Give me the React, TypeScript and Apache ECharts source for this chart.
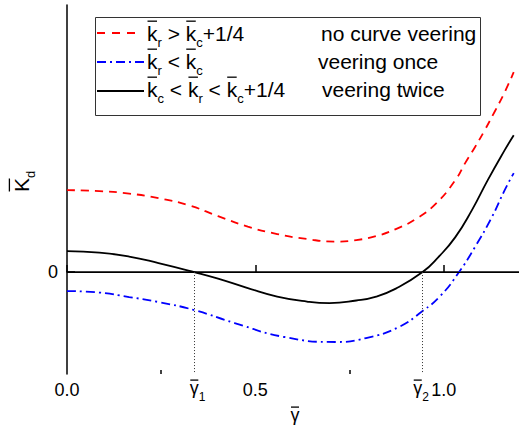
import React, { useEffect, useRef } from 'react';
import * as echarts from 'echarts';

const FONT = '"Liberation Sans", Arial, Helvetica, sans-serif';

// Axis ranges and ticks
const X_MIN = 0;
const X_MAX = 1.2;
const Y_MIN = -1;
const Y_MAX = 2.62;
const X_MAJOR_TICKS = [0, 0.5, 1.0];
const X_MINOR_TICKS = [0.25, 0.75];
const Y_TICKS = [0];

// Zero crossings of the "veering twice" curve
const GAMMA_1 = 0.338;
const GAMMA_2 = 0.944;

// k_r > k_c + 1/4 : no curve veering
const redX = [0, 0.086, 0.165, 0.243, 0.322, 0.401, 0.48, 0.558, 0.637, 0.711, 0.768, 0.821, 0.873, 0.926, 0.978, 1.031, 1.057, 1.083, 1.109, 1.136, 1.162, 1.186];
const redY = [0.804, 0.794, 0.77, 0.725, 0.657, 0.549, 0.446, 0.373, 0.324, 0.299, 0.314, 0.353, 0.422, 0.52, 0.667, 0.902, 1.069, 1.225, 1.392, 1.578, 1.765, 1.961];

// k_r < k_c : veering once
const blueX = [0, 0.086, 0.165, 0.243, 0.338, 0.445, 0.577, 0.716, 0.794, 0.881, 0.944, 0.991, 1.039, 1.083, 1.128, 1.162, 1.186];
const blueY = [-0.186, -0.201, -0.245, -0.294, -0.373, -0.5, -0.637, -0.686, -0.647, -0.539, -0.382, -0.235, -0.01, 0.245, 0.539, 0.804, 0.971];

// k_c < k_r < k_c + 1/4 : veering twice
const blackX = [0, 0.086, 0.165, 0.243, 0.338, 0.401, 0.48, 0.558, 0.637, 0.697, 0.768, 0.821, 0.873, 0.944, 0.986, 1.031, 1.075, 1.117, 1.162, 1.186];
const blackY = [0.206, 0.191, 0.152, 0.088, 0, -0.064, -0.157, -0.24, -0.289, -0.304, -0.279, -0.24, -0.162, 0, 0.147, 0.343, 0.608, 0.902, 1.196, 1.343];

// Legend contents: [text, style] pieces; "bar" = overlined symbol, "sub" = subscript
const LEGEND_CONDITIONS: [string, string?][][] = [
  [['k', 'bar'], ['r', 'sub'], [' > '], ['k', 'bar'], ['c', 'sub'], ['+1/4']],
  [['k', 'bar'], ['r', 'sub'], [' < '], ['k', 'bar'], ['c', 'sub']],
  [['k', 'bar'], ['c', 'sub'], [' < '], ['k', 'bar'], ['r', 'sub'], [' < '], ['k', 'bar'], ['c', 'sub'], ['+1/4']],
];
const LEGEND_NOTES = ['no curve veering', 'veering once', 'veering twice'];
const LEGEND_COLORS = ['#ff0000', '#0000ff', '#000000'];
const LEGEND_DASHES: (number[] | null)[] = [[8, 7], [9, 4, 2, 4], null];

const zip = (xs: number[], ys: number[]) => xs.map((x, i) => [x, ys[i]]);

let measureCtx: CanvasRenderingContext2D | null = null;
function measure(text: string, size: number) {
  if (!measureCtx) measureCtx = document.createElement('canvas').getContext('2d');
  if (!measureCtx) return text.length * size * 0.55;
  measureCtx.font = `${size}px ${FONT}`;
  return measureCtx.measureText(text).width;
}

type Piece = { text: string; size: number; sub?: boolean; bar?: number };

// Lays out a run of text with subscripts and overbars; baseline at local y = 0.
function textRun(pieces: Piece[], subDrop: number) {
  let x = 0;
  const children: any[] = [];
  for (const p of pieces) {
    const w = measure(p.text, p.size);
    const base = p.sub ? subDrop : 0;
    children.push({
      type: 'text',
      x,
      y: base - 0.3465 * p.size,
      style: { text: p.text, fontSize: p.size, fontFamily: FONT, fill: '#000', align: 'left', verticalAlign: 'middle' },
    });
    if (p.bar) {
      const yb = -p.bar * p.size;
      children.push({
        type: 'line',
        shape: { x1: x + 0.5, y1: yb, x2: x + w - 0.5, y2: yb },
        style: { stroke: '#000', lineWidth: 1.3 },
      });
    }
    x += w;
  }
  return { children, width: x };
}

function legendElements() {
  const baselines = [40.5, 68.5, 96.5];
  const lineYs = [33, 62, 91];
  const noteXs = [321, 318, 322];
  const els: any[] = [
    {
      type: 'rect',
      shape: { x: 95.5, y: 17.5, width: 385, height: 98 },
      style: { fill: '#fff', stroke: '#333', lineWidth: 1 },
    },
  ];
  LEGEND_CONDITIONS.forEach((row, i) => {
    els.push({
      type: 'line',
      shape: { x1: 97, y1: lineYs[i], x2: i === 0 ? 137 : 144, y2: lineYs[i] },
      style: { stroke: LEGEND_COLORS[i], lineWidth: 1.8, lineDash: LEGEND_DASHES[i] || undefined },
    });
    const pieces: Piece[] = row.map(([t, kind]) =>
      kind === 'sub' ? { text: t, size: 13, sub: true } : kind === 'bar' ? { text: t, size: 21, bar: 0.92 } : { text: t, size: 21 }
    );
    const run = textRun(pieces, 7);
    els.push({ type: 'group', x: 147, y: baselines[i], children: run.children });
    els.push({
      type: 'text',
      x: noteXs[i],
      y: baselines[i] - 0.3465 * 21,
      style: { text: LEGEND_NOTES[i], fontFamily: FONT, fontSize: 21, fill: '#000', align: 'left', verticalAlign: 'middle' },
    });
  });
  return els;
}

export default function App() {
  const ref = useRef<HTMLDivElement>(null);

  useEffect(() => {
    if (!ref.current) return;
    const chart = echarts.init(ref.current, null, { renderer: 'svg' });
    const dotted = { color: '#333', width: 1, type: [1, 2] as any };
    chart.setOption({
      animation: false,
      backgroundColor: '#fff',
      grid: { left: 67, right: -5, top: 5, bottom: 61, containLabel: false },
      xAxis: [
        {
          type: 'value',
          min: X_MIN,
          max: X_MAX,
          position: 'bottom',
          axisLine: { show: true, lineStyle: { color: '#000', width: 1.5 } },
          axisTick: { show: true, inside: true, length: 7, customValues: X_MAJOR_TICKS, lineStyle: { color: '#000', width: 1.5 } },
          axisLabel: {
            customValues: X_MAJOR_TICKS,
            formatter: (v: number) => v.toFixed(1),
            fontFamily: FONT,
            fontSize: 18,
            color: '#000',
            margin: 7,
          },
          splitLine: { show: false },
        },
        {
          type: 'value',
          min: X_MIN,
          max: X_MAX,
          position: 'bottom',
          axisLine: { show: false },
          axisTick: { show: true, inside: true, length: 4, customValues: X_MINOR_TICKS, lineStyle: { color: '#000', width: 1.5 } },
          axisLabel: { show: false },
          splitLine: { show: false },
        },
      ],
      yAxis: {
        type: 'value',
        min: Y_MIN,
        max: Y_MAX,
        axisLine: { show: true, lineStyle: { color: '#000', width: 1.5 } },
        axisTick: { show: true, inside: true, length: 8, customValues: Y_TICKS, lineStyle: { color: '#000', width: 1.5 } },
        axisLabel: { customValues: Y_TICKS, fontFamily: FONT, fontSize: 18, color: '#000', margin: 9 },
        splitLine: { show: false },
      },
      series: [
        {
          type: 'line',
          data: zip(blackX, blackY),
          smooth: true,
          showSymbol: false,
          lineStyle: { color: '#000', width: 1.8 },
          markLine: {
            silent: true,
            symbol: 'none',
            label: { show: false },
            data: [
              { yAxis: 0, lineStyle: { color: '#000', width: 1, type: 'solid' } },
              [{ coord: [GAMMA_1, 0], lineStyle: dotted }, { coord: [GAMMA_1, Y_MIN] }],
              [{ coord: [GAMMA_2, 0], lineStyle: dotted }, { coord: [GAMMA_2, Y_MIN] }],
            ],
          },
        },
        {
          type: 'line',
          data: zip(redX, redY),
          smooth: true,
          showSymbol: false,
          lineStyle: { color: '#ff0000', width: 1.8, type: [8, 6] },
        },
        {
          type: 'line',
          data: zip(blueX, blueY),
          smooth: true,
          showSymbol: false,
          lineStyle: { color: '#0000ff', width: 1.8, type: [9, 4, 2, 4] },
        },
      ],
    });

    // Axis titles and the marked crossing points, placed through the axis scales
    const gammaLabel = (value: number, sub: string, centerWhole: boolean) => {
      const px = chart.convertToPixel({ xAxisIndex: 0 }, value) as number;
      const gw = measure('\u03b3', 18);
      const run = textRun([{ text: '\u03b3', size: 18, bar: 0.8 }, { text: sub, size: 12, sub: true }], 7);
      const left = centerWhole ? px - run.width / 2 - 1.5 : px - gw / 2;
      return { type: 'group', x: left, y: 394.5, children: run.children };
    };
    const midPx = chart.convertToPixel({ xAxisIndex: 0 }, (X_MIN + X_MAX) / 2) as number;
    const xName = textRun([{ text: '\u03b3', size: 18, bar: 0.8 }], 7);
    const yName = textRun([{ text: 'K', size: 21, bar: 0.9 }, { text: 'd', size: 13, sub: true }], 6.5);

    chart.setOption({
      graphic: [
        ...legendElements(),
        gammaLabel(GAMMA_1, '1', false),
        gammaLabel(GAMMA_2, '2', true),
        { type: 'group', x: midPx + 2 - measure('\u03b3', 18) / 2, y: 421.5, children: xName.children },
        { type: 'group', x: 28.3, y: 192, rotation: Math.PI / 2, children: yName.children },
      ],
    });
    return () => chart.dispose();
  }, []);

  return <div ref={ref} style={{ position: 'fixed', left: 0, top: 0, width: 519, height: 435 }} />;
}
